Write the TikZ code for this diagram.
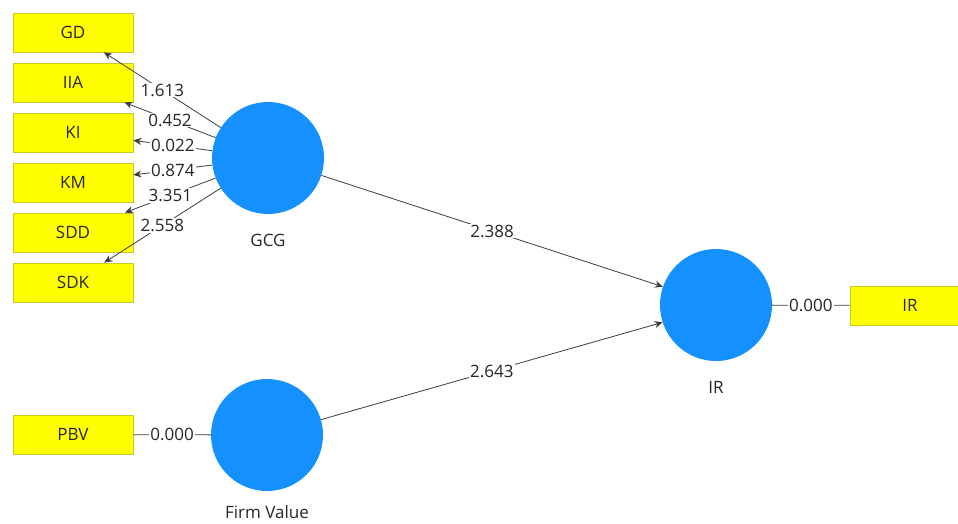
\documentclass[tikz,border=0pt]{standalone}
\usepackage{fontspec}
\setmainfont{Open Sans}
\usetikzlibrary{arrows.meta}
\definecolor{boxyellow}{RGB}{255,255,0}
\definecolor{boxborder}{RGB}{200,200,40}
\definecolor{latblue}{RGB}{21,145,255}
\definecolor{linegray}{RGB}{60,60,60}
\begin{document}
\begin{tikzpicture}[x=1pt,y=-1pt,
 every node/.style={font=\fontsize{17}{20}\selectfont, text=black!85},
 ind/.style={draw=boxborder, line width=0.8pt, fill=boxyellow, minimum width=120pt, minimum height=39pt, inner sep=0pt},
 lat/.style={circle, fill=latblue, minimum size=112pt, inner sep=0pt},
 conn/.style={draw=linegray, line width=0.8pt},
 arr/.style={conn, -{Stealth[length=8pt,width=7pt]}},
 val/.style={fill=white, inner sep=1pt}
]
\useasboundingbox (0,0) rectangle (958,524);
\clip (0,0) rectangle (958,524);
\node[ind] (gd)  at (73,32.5)  {GD};
\node[ind] (iia) at (73,82.5)  {IIA};
\node[ind] (ki)  at (73,132.5) {KI};
\node[ind] (km)  at (73,182.5) {KM};
\node[ind] (sdd) at (73,232.5) {SDD};
\node[ind] (sdk) at (73,282.5) {SDK};
\node[ind] (pbv) at (73,434.5) {PBV};
\node[ind] (irbox) at (910,305.5) {IR};
\node[lat] (gcg) at (268,158) {};
\node[lat] (ir)  at (716,305) {};
\node[lat] (fv)  at (267,435) {};
\node (gcgl) at (268,240) {GCG};
\node (irl)  at (716,387) {IR};
\node (fvl)  at (267,512) {Firm Value};
\draw[arr] (gcg) -- (gd)  node[val,pos=0.5] {1.613};
\draw[arr] (gcg) -- (iia) node[val,pos=0.5] {0.452};
\draw[arr] (gcg) -- (ki)  node[val,pos=0.5] {0.022};
\draw[arr] (gcg) -- (km)  node[val,pos=0.5] {0.874};
\draw[arr] (gcg) -- (sdd) node[val,pos=0.5] {3.351};
\draw[arr] (gcg) -- (sdk) node[val,pos=0.5] {2.558};
\draw[conn] (ir) -- (irbox) node[val,midway] {0.000};
\draw[conn] (fv) -- (pbv) node[val,midway] {0.000};
\draw[arr] (gcg) -- (ir.161.6) node[val,pos=0.5] {2.388};
\draw[arr] (fv) -- (ir.198.4) node[val,pos=0.5] {2.643};
\end{tikzpicture}
\end{document}
